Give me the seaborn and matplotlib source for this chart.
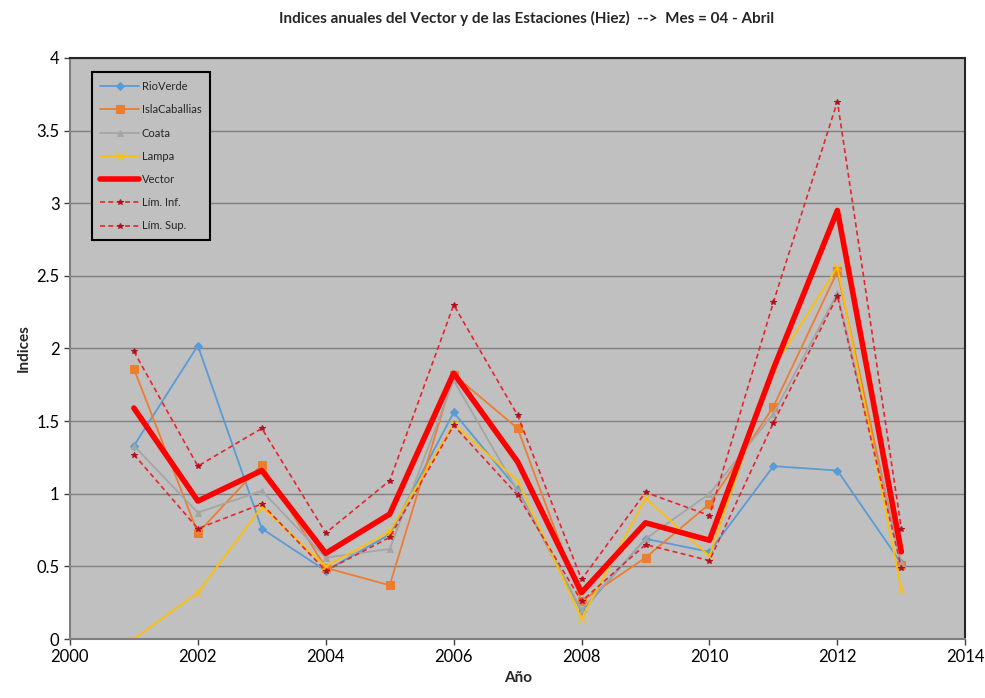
import matplotlib
matplotlib.use("Agg")
import matplotlib.pyplot as plt
import seaborn as sns
import pandas as pd

years = list(range(2001, 2014))

rio_verde = [1.33, 2.02, 0.76, 0.47, 0.72, 1.56, 1.03, 0.19, 0.69, 0.60, 1.19, 1.16, 0.52]
isla_caballias = [1.86, 0.73, 1.20, 0.49, 0.37, 1.82, 1.45, 0.26, 0.56, 0.93, 1.60, 2.53, 0.51]
coata = [1.33, 0.87, 1.02, 0.56, 0.62, 1.78, 1.02, 0.20, 0.69, 1.00, 1.55, 2.38, 0.52]
lampa = [0.0, 0.32, 0.91, 0.50, 0.74, 1.48, 1.09, 0.14, 0.97, 0.57, 1.87, 2.56, 0.34]
vector = [1.59, 0.95, 1.16, 0.59, 0.86, 1.83, 1.22, 0.32, 0.80, 0.68, 1.86, 2.95, 0.60]
lim_inf = [1.27, 0.76, 0.93, 0.47, 0.70, 1.47, 0.99, 0.26, 0.65, 0.54, 1.49, 2.36, 0.49]
lim_sup = [1.98, 1.19, 1.45, 0.73, 1.09, 2.30, 1.54, 0.41, 1.01, 0.85, 2.32, 3.70, 0.76]

series_names = ["RioVerde", "IslaCaballias", "Coata", "Lampa", "Vector", "Lím. Inf.", "Lím. Sup."]
series_values = [rio_verde, isla_caballias, coata, lampa, vector, lim_inf, lim_sup]

df = pd.DataFrame({
    "Año": years * len(series_names),
    "Indices": sum(series_values, []),
    "Serie": sum([[n] * len(years) for n in series_names], []),
})

styles = {
    "RioVerde": dict(color="#5B9BD5", marker="D", ms=4, lw=1.3, ls="-"),
    "IslaCaballias": dict(color="#ED7D31", marker="s", ms=6, lw=1.3, ls="-"),
    "Coata": dict(color="#A5A5A5", marker="^", ms=5, lw=1.3, ls="-"),
    "Lampa": dict(color="#FFC000", marker="x", ms=6, lw=1.3, ls="-"),
    "Vector": dict(color="#FF0000", marker=None, ms=0, lw=4, ls="-"),
    "Lím. Inf.": dict(color="#E8252B", marker="*", ms=4, lw=1.2, ls=(0, (3, 2))),
    "Lím. Sup.": dict(color="#E8252B", marker="*", ms=4, lw=1.2, ls=(0, (3, 2))),
}

sns.set_style("ticks")
plt.rcParams["font.family"] = ["Lato", "DejaVu Sans"]

fig = plt.figure(figsize=(9.85, 6.98), dpi=100)
ax = fig.add_axes([0.071, 0.0845, 0.909, 0.8325])
ax.set_facecolor("#C0C0C0")

for name in series_names:
    st = styles[name]
    sub = df[df["Serie"] == name]
    edge = "#B01020" if name.startswith("Lím") else st["color"]
    sns.lineplot(data=sub, x="Año", y="Indices", ax=ax, label=name,
                 color=st["color"], linewidth=st["lw"], linestyle=st["ls"],
                 marker=st["marker"], markersize=st["ms"],
                 markeredgecolor=edge, markerfacecolor=edge)

ax.set_xlim(2000, 2014)
ax.set_ylim(0, 4)
ax.set_xticks(range(2000, 2015, 2))
ax.set_yticks([0, 0.5, 1, 1.5, 2, 2.5, 3, 3.5, 4])
ax.set_yticklabels(["0", "0.5", "1", "1.5", "2", "2.5", "3", "3.5", "4"])
ax.yaxis.grid(True, color="#7F7F7F", linewidth=1)
ax.set_axisbelow(True)
ax.tick_params(axis="both", labelsize=12, colors="#404040", length=4, width=1, labelcolor="black")
for side in ["left", "bottom"]:
    ax.spines[side].set_color("#7F7F7F")
    ax.spines[side].set_linewidth(1.5)
for side in ["right", "top"]:
    ax.spines[side].set_visible(True)
    ax.spines[side].set_color("#262626")
    ax.spines[side].set_linewidth(1.5)

ax.set_xlabel("Año", fontsize=11, fontweight="bold")
ax.set_ylabel("Indices", fontsize=11, fontweight="bold")
fig.suptitle("Indices anuales del Vector y de las Estaciones (Hiez)  -->  Mes = 04 - Abril",
             x=0.535, y=0.985, fontsize=11, fontweight="bold")

leg = ax.legend(loc="upper left", bbox_to_anchor=(0.018, 0.985), fontsize=8,
                frameon=True, fancybox=False, handlelength=3.5, labelspacing=1.1,
                borderpad=0.8, handletextpad=0.2)
leg.get_frame().set_facecolor("#C0C0C0")
leg.get_frame().set_edgecolor("black")
leg.get_frame().set_linewidth(1.5)
leg.get_frame().set_alpha(1)

fig.savefig("out.png", dpi=100)
